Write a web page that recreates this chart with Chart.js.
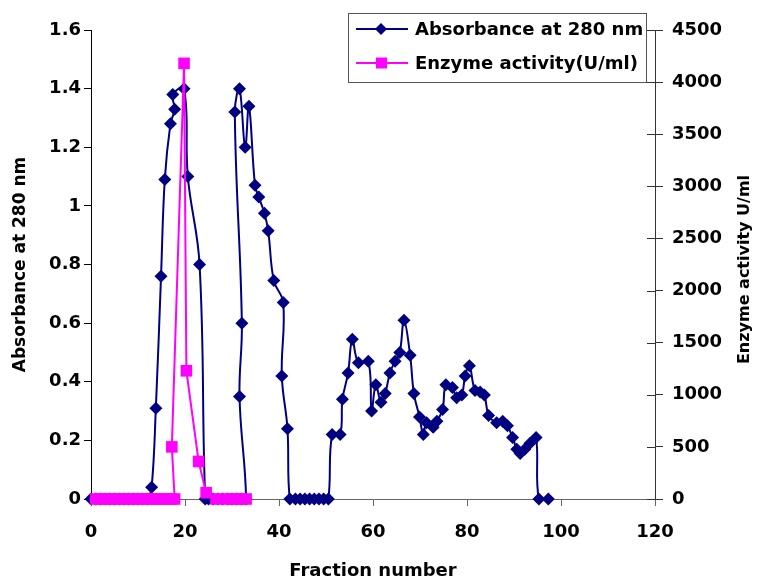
<!DOCTYPE html>
<html>
<head>
<meta charset="utf-8">
<title>Fraction profile</title>
<script src="https://cdn.jsdelivr.net/npm/chart.js@4.4.1/dist/chart.umd.min.js"></script>
<style>
    html, body { margin: 0; padding: 0; background: #fff; }
    #wrap { width: 760px; height: 582px; }
</style>
</head>
<body>
<div id="wrap"><canvas id="fractionChart" width="760" height="582"></canvas></div>
<script>
// Absorbance at 280 nm (left axis) - fraction number / value, in plotted order
const absFraction = [0, 1, 2, 3, 4, 5, 6, 7, 8, 9, 10, 11, 12,
    12.9, 13.8, 14.9, 15.7, 16.9, 17.8, 17.4, 19.8, 20.6, 23.1, 24.3,
    25, 26, 27, 28, 29, 30, 31, 32, 33,
    31.6, 32.1, 30.6, 31.6, 32.8, 33.6, 34.9, 35.7, 36.9, 37.7, 38.9, 40.9, 40.6, 41.8, 42.3,
    43.5, 44.5, 45.5, 46.5, 47.5, 48.5, 49.5, 50.5,
    51.3, 53, 53.5, 54.7, 55.6, 56.9, 59, 59.7, 60.6, 61.7, 62.6, 63.6, 64.7, 65.7, 66.6, 67.9,
    68.7, 69.9, 70.7, 71.4, 72.8, 73.6, 74.8, 75.5, 76.9, 77.8, 78.9, 79.6, 80.5, 81.7, 82.8,
    83.7, 84.6, 86.3, 87.6, 88.6, 89.7, 90.6, 91.3, 92.3, 93.4, 94.7, 95.3, 97.3];
const absValues = [0, 0, 0, 0, 0, 0, 0, 0, 0, 0, 0, 0, 0,
    0.04, 0.31, 0.76, 1.09, 1.28, 1.33, 1.38, 1.40, 1.10, 0.80, 0,
    0, 0, 0, 0, 0, 0, 0, 0, 0,
    0.35, 0.60, 1.32, 1.40, 1.20, 1.34, 1.07, 1.03, 0.975, 0.915, 0.745, 0.67, 0.42, 0.24, 0,
    0, 0, 0, 0, 0, 0, 0, 0,
    0.22, 0.22, 0.34, 0.43, 0.545, 0.465, 0.47, 0.30, 0.39, 0.33, 0.36, 0.43, 0.47, 0.50, 0.61, 0.49,
    0.36, 0.28, 0.22, 0.26, 0.245, 0.265, 0.305, 0.39, 0.38, 0.345, 0.355, 0.42, 0.455, 0.37, 0.365,
    0.355, 0.285, 0.26, 0.265, 0.25, 0.21, 0.17, 0.155, 0.17, 0.19, 0.21, 0, 0];

// Enzyme activity (U/ml) (right axis)
const enzFraction = [1, 2, 3, 4, 5, 6, 7, 8, 9, 10, 11, 12, 13, 14, 15, 16, 17, 17.8,
    17.2, 19.8, 20.3, 22.9, 24.5, 26.6, 29, 30, 31, 32, 33];
const enzValues = [0, 0, 0, 0, 0, 0, 0, 0, 0, 0, 0, 0, 0, 0, 0, 0, 0, 0,
    500, 4180, 1230, 360, 60, 0, 0, 0, 0, 0, 0];

// axis ticks
const fractionTicks = [0, 20, 40, 60, 80, 100, 120];
const absTicks = [0, 0.2, 0.4, 0.6, 0.8, 1, 1.2, 1.4, 1.6];
const enzTicks = [0, 500, 1000, 1500, 2000, 2500, 3000, 3500, 4000, 4500];

const seriesNames = ['Absorbance at 280 nm', 'Enzyme activity(U/ml)'];
const NAVY = '#000080';
const PINK = '#FF00FF';
const TICK_FONT = { family: 'DejaVu Sans', weight: 'bold', size: 18 };

function toPoints(xs, ys) {
    return xs.map((x, i) => ({ x: x, y: ys[i] }));
}

// legend box, right axis title and the inner half of right axis ticks
const extrasPlugin = {
    id: 'extras',
    afterDraw(chart) {
        const ctx = chart.ctx;
        const y2 = chart.scales.y2;
        ctx.save();
        // right axis ticks cross the axis line
        ctx.strokeStyle = '#333';
        ctx.lineWidth = 1;
        enzTicks.forEach(v => {
            const py = Math.round(y2.getPixelForValue(v)) + 0.5;
            ctx.beginPath();
            ctx.moveTo(y2.left - 8, py);
            ctx.lineTo(y2.left, py);
            ctx.stroke();
        });

        // right axis title, reads bottom to top
        ctx.translate(745, (chart.chartArea.top + chart.chartArea.bottom) / 2 + 5);
        ctx.rotate(-Math.PI / 2);
        ctx.fillStyle = '#000';
        ctx.font = 'bold 16px "DejaVu Sans"';
        ctx.textAlign = 'center';
        ctx.textBaseline = 'middle';
        ctx.fillText('Enzyme activity U/ml', 0, 0);
        ctx.restore();

        // legend
        ctx.save();
        ctx.fillStyle = '#fff';
        ctx.fillRect(348.5, 13.5, 298, 69);
        ctx.strokeStyle = '#555';
        ctx.lineWidth = 1;
        ctx.strokeRect(348.5, 13.5, 298, 69);
        const rows = [29, 63];
        const colors = [NAVY, PINK];
        rows.forEach((ry, i) => {
            ctx.strokeStyle = colors[i];
            ctx.lineWidth = 2;
            ctx.beginPath();
            ctx.moveTo(356, ry);
            ctx.lineTo(408, ry);
            ctx.stroke();
            ctx.fillStyle = colors[i];
            ctx.beginPath();
            if (i === 0) {
                ctx.moveTo(381, ry - 6);
                ctx.lineTo(387, ry);
                ctx.lineTo(381, ry + 6);
                ctx.lineTo(375, ry);
                ctx.closePath();
            } else {
                ctx.rect(376, ry - 5.5, 11, 11);
            }
            ctx.fill();
            ctx.fillStyle = '#000';
            ctx.font = 'bold 18px "DejaVu Sans"';
            ctx.textAlign = 'left';
            ctx.textBaseline = 'middle';
            ctx.fillText(seriesNames[i], 415, ry + 1);
        });
        ctx.restore();
    }
};

const ctx = document.getElementById('fractionChart').getContext('2d');
const fractionChart = new Chart(ctx, {
    type: 'scatter',
    data: {
        datasets: [{
            label: seriesNames[0],
            data: toPoints(absFraction, absValues),
            yAxisID: 'y',
            showLine: true,
            borderColor: NAVY,
            backgroundColor: NAVY,
            borderWidth: 2,
            pointStyle: 'rectRot',
            pointRadius: 6.5,
            pointBorderWidth: 0,
            tension: 0.4,
            clip: false,
            order: 2
        }, {
            label: seriesNames[1],
            data: toPoints(enzFraction, enzValues),
            yAxisID: 'y2',
            showLine: true,
            borderColor: PINK,
            backgroundColor: PINK,
            borderWidth: 2,
            pointStyle: 'rect',
            pointRadius: 8.2,
            pointBorderWidth: 0,
            tension: 0,
            clip: false,
            order: 1
        }]
    },
    options: {
        responsive: false,
        animation: false,
        devicePixelRatio: 1,
        layout: { padding: { top: 30, left: 0, right: 0, bottom: 0 } },
        plugins: {
            legend: { display: false },
            tooltip: { enabled: false }
        },
        scales: {
            x: {
                type: 'linear',
                min: 0,
                max: 120,
                afterBuildTicks: s => { s.ticks = fractionTicks.map(v => ({ value: v })); },
                afterFit: s => { s.height = 83; },
                ticks: { color: '#000', font: TICK_FONT, padding: 16, maxRotation: 0 },
                grid: { drawOnChartArea: false, drawTicks: true, tickLength: 7, color: '#666' },
                border: { color: '#666', width: 1 },
                title: {
                    display: true,
                    text: 'Fraction number',
                    color: '#000',
                    font: { family: 'DejaVu Sans', weight: 'bold', size: 18 },
                    padding: { top: 0, bottom: 0 }
                }
            },
            y: {
                position: 'left',
                min: 0,
                max: 1.6,
                afterBuildTicks: s => { s.ticks = absTicks.map(v => ({ value: v })); },
                afterFit: s => { s.width = 91; },
                ticks: { color: '#000', font: TICK_FONT, padding: 3, callback: v => String(v) },
                grid: { drawOnChartArea: false, drawTicks: true, tickLength: 7, color: '#000' },
                border: { color: '#000', width: 1 },
                title: {
                    display: true,
                    text: 'Absorbance at 280 nm',
                    color: '#000',
                    font: { family: 'DejaVu Sans', weight: 'bold', size: 17 },
                    padding: { top: 10, bottom: 0 }
                }
            },
            y2: {
                position: 'right',
                min: 0,
                max: 4500,
                afterBuildTicks: s => { s.ticks = enzTicks.map(v => ({ value: v })); },
                afterFit: s => { s.width = 105; },
                ticks: { color: '#000', font: TICK_FONT, padding: 9, callback: v => String(v) },
                grid: { drawOnChartArea: false, drawTicks: true, tickLength: 8, color: '#333' },
                border: { color: '#333', width: 1 }
            }
        }
    },
    plugins: [extrasPlugin]
});
</script>
</body>
</html>
